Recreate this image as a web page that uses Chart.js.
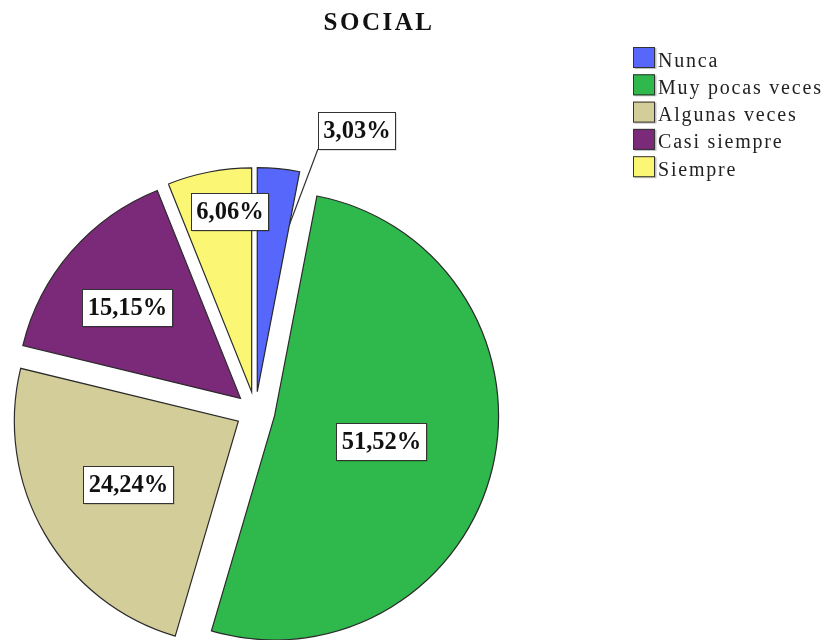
<!DOCTYPE html>
<html>
<head>
<meta charset="utf-8">
<script src="https://cdn.jsdelivr.net/npm/chart.js@4"></script>
<style>
    html, body { margin: 0; padding: 0; background: #fff; }
    canvas { display: block; }
</style>
</head>
<body>
<canvas id="chart" width="830" height="640"></canvas>
<script>
// Data.
const chart_title = "SOCIAL";
const categories = ["Nunca", "Muy pocas veces", "Algunas veces", "Casi siempre", "Siempre"];
const counts = [1, 17, 8, 5, 2];
const colors = ["#5766fb", "#2fb84b", "#d3cd9a", "#7b2979", "#fbf774"];

// Pie geometry.
const pie_radius = 224;
const explode = 19.7;

// Where each value box sits: f = distance from the slice tip as share of radius,
// turn = degrees away from the slice middle, leader = line back to the slice edge.
const label_layout = [
    { f: 1.25, turn: 15.4, leader: 0.76 },
    { f: 0.49, turn: 0 },
    { f: 0.57, turn: 0 },
    { f: 0.65, turn: -2.4 },
    { f: 0.81, turn: 4 },
];

function percent_text(value, total) {
    return (value / total * 100).toFixed(2).replace(".", ",");
}

// Chart.js offset also grows small slices, so move every arc the same way here instead.
const explode_plugin = {
    id: "explode",
    beforeDatasetsDraw(chart) {
        const ctx = chart.ctx;
        const meta = chart.getDatasetMeta(0);

        meta.data.forEach((arc) => {
            const mid = (arc.startAngle + arc.endAngle) / 2;
            ctx.save();
            ctx.translate(Math.cos(mid) * explode, Math.sin(mid) * explode);
            arc.draw(ctx);
            ctx.restore();
        });
        return false;
    }
};

// Value boxes, title and legend.
const label_plugin = {
    id: "slice_labels",
    afterDraw(chart) {
        const ctx = chart.ctx;
        const meta = chart.getDatasetMeta(0);
        const ds = chart.data.datasets[0];
        const total = ds.data.reduce((a, b) => a + b, 0);

        ctx.save();
        ctx.font = "bold 24.5px 'Liberation Serif'";
        ctx.textAlign = "center";
        ctx.textBaseline = "middle";

        meta.data.forEach((arc, i) => {
            const mid = (arc.startAngle + arc.endAngle) / 2;
            const tip_x = arc.x + Math.cos(mid) * explode;
            const tip_y = arc.y + Math.sin(mid) * explode;
            const lay = label_layout[i];
            const a = mid + lay.turn * Math.PI / 180;
            const r = lay.f * arc.outerRadius;
            const x = tip_x + Math.cos(a) * r;
            const y = tip_y + Math.sin(a) * r;

            const text = percent_text(ds.data[i], total) + "%";
            const w = Math.round(ctx.measureText(text).width + 10);
            const h = 37;
            const bx = Math.round(x - w / 2);
            const by = Math.round(y - h / 2);

            // Leader line for labels put outside the pie.
            if (lay.leader) {
                const ex = tip_x + Math.cos(arc.endAngle) * lay.leader * arc.outerRadius;
                const ey = tip_y + Math.sin(arc.endAngle) * lay.leader * arc.outerRadius;
                ctx.strokeStyle = "#333";
                ctx.lineWidth = 1.2;
                ctx.beginPath();
                ctx.moveTo(bx, by + h);
                ctx.lineTo(ex, ey);
                ctx.stroke();
            }

            ctx.fillStyle = "rgba(0,0,0,0.25)";
            ctx.fillRect(bx + 1.5, by + 1.5, w, h);
            ctx.fillStyle = "#fff";
            ctx.fillRect(bx, by, w, h);
            ctx.strokeStyle = "#333";
            ctx.lineWidth = 1;
            ctx.strokeRect(bx + 0.5, by + 0.5, w, h);

            ctx.fillStyle = "#111";
            ctx.fillText(text, bx + w / 2 + 0.5, by + h / 2 + 1.5);
        });

        ctx.fillStyle = "#111";
        ctx.textBaseline = "alphabetic";

        // Title.
        ctx.font = "bold 25px 'Liberation Serif'";
        ctx.letterSpacing = "2.5px";
        ctx.textAlign = "center";
        ctx.fillText(chart_title, 379, 30);

        // Legend.
        ctx.font = "20px 'Liberation Serif'";
        ctx.letterSpacing = "1.8px";
        ctx.textAlign = "left";
        chart.data.labels.forEach((label, i) => {
            const y = 47 + i * 27.3;
            ctx.fillStyle = "rgba(0,0,0,0.25)";
            ctx.fillRect(634.5, y + 1, 22, 21);
            ctx.fillStyle = ds.backgroundColor[i];
            ctx.fillRect(633, y, 22, 21);
            ctx.strokeStyle = "#333";
            ctx.lineWidth = 1;
            ctx.strokeRect(633.5, y + 0.5, 21, 20);
            ctx.fillStyle = "#222";
            ctx.fillText(label, 658, y + 19.5);
        });
        ctx.restore();
    }
};

const config = {
    type: "pie",
    data: {
        labels: categories,
        datasets: [{
            data: counts,
            backgroundColor: colors,
            borderColor: "#2a2a2a",
            borderWidth: 1.2,
            borderJoinStyle: "miter",
            radius: pie_radius,
            hoverOffset: 0,
        }]
    },
    options: {
        responsive: false,
        animation: false,
        events: [],
        layout: {
            padding: { left: 0, top: 182.6, right: 319.2, bottom: 0 },
        },
        plugins: {
            legend: { display: false },
            title: { display: false },
            tooltip: { enabled: false },
        },
    },
    plugins: [explode_plugin, label_plugin],
};

window.myChart = new Chart(document.getElementById("chart"), config);
</script>
</body>
</html>
